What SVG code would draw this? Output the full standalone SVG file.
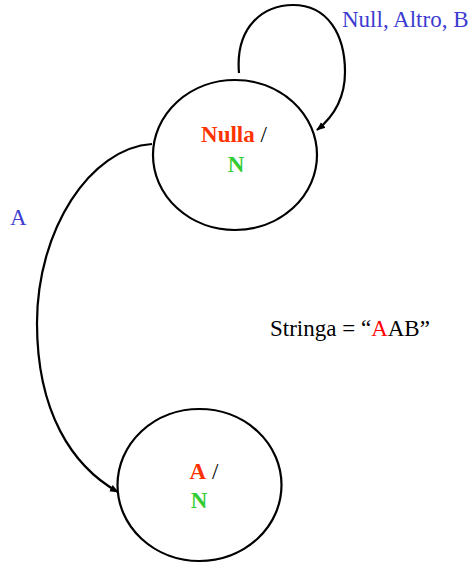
<svg xmlns="http://www.w3.org/2000/svg" width="474" height="563" viewBox="0 0 474 563">
<style>
.st{fill:#fff;stroke:#000;stroke-width:2.2}
.ed{fill:none;stroke:#000;stroke-width:2.2;marker-end:url(#ah)}
text{font-family:"Liberation Serif","Times New Roman",serif;font-size:23px}
.nm{font-weight:bold;fill:#ff3300}
.out{font-weight:bold;fill:#33cc33}
.lbl{fill:#3c3cd0}
</style>
<defs>
<marker id="ah" viewBox="0 0 10 10" refX="9" refY="5" markerWidth="9" markerHeight="9" markerUnits="userSpaceOnUse" orient="auto">
<path d="M0,1 L10,5 L0,9 Z" fill="#000"/>
</marker>
</defs>
<g id="connectors">
<path class="ed" d="M239,73 C235,25 265,5 293,5 C328,5 345,35 345,72 C345,100 332,118 317,130"/>
<path class="ed" d="M152,144 C90,148 37,230 37,323 C37,412 72,466 118,492"/>
</g>
<g id="node-nulla">
<ellipse class="st" cx="235" cy="155" rx="82" ry="75"/>
<text x="234" y="142" text-anchor="middle"><tspan class="nm">Nulla</tspan> /</text>
<text x="236" y="172" text-anchor="middle" class="out">N</text>
</g>
<g id="node-a">
<ellipse class="st" cx="199.5" cy="485" rx="82" ry="76"/>
<text x="204" y="479" text-anchor="middle"><tspan class="nm">A</tspan> /</text>
<text x="199" y="508" text-anchor="middle" class="out">N</text>
</g>
<g id="labels">
<text class="lbl" x="342" y="27">Null, Altro, B</text>
<text class="lbl" x="10" y="225">A</text>
<text x="270" y="336">Stringa = “<tspan fill="#ff0000">A</tspan>AB”</text>
</g>
</svg>
